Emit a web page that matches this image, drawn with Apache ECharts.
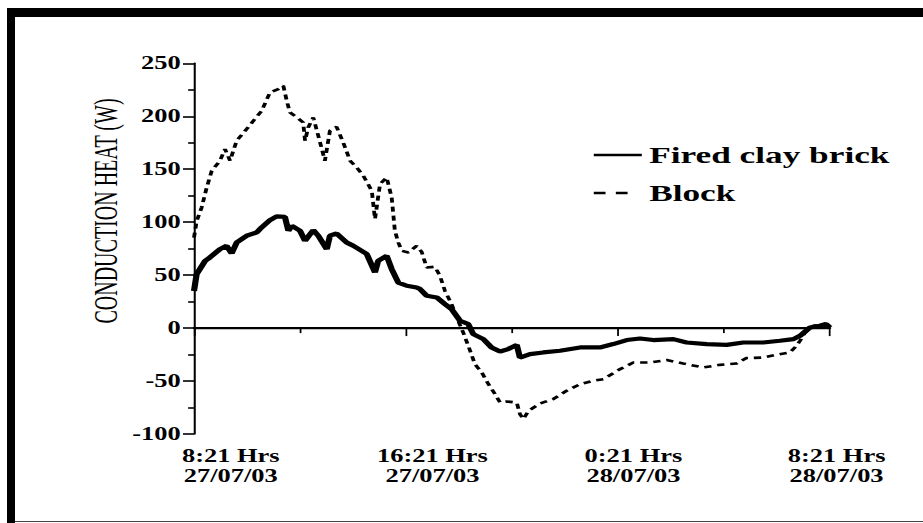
<!DOCTYPE html>
<html>
<head>
<meta charset="utf-8">
<script src="https://cdn.jsdelivr.net/npm/echarts@6/dist/echarts.min.js"></script>
<style>
html,body{margin:0;padding:0;background:#fff;overflow:hidden;width:923px;height:523px}
#wrap{position:absolute;left:0;top:0;width:628px;height:523px;transform:scaleX(1.46975);transform-origin:0 0}
.b{position:absolute;background:#000;z-index:2}
</style>
</head>
<body>
<div id="wrap"></div>
<div class="b" style="left:7px;top:8px;width:8px;height:515px"></div>
<div class="b" style="left:7px;top:8px;width:916px;height:9px"></div>
<div class="b" style="left:15px;top:521px;width:908px;height:1px;background:#444"></div>
<script>
// Hours elapsed since 8:21 on 27/07/03
const brickHours = [0,0.10,0.42,0.60,0.98,1.23,1.42,1.61,1.99,2.37,2.55,2.87,3.12,3.43,3.56,3.69,4.00,4.19,4.50,4.69,5.01,5.13,5.38,5.76,6.01,6.52,6.83,6.95,7.27,7.46,7.71,8.03,8.40,8.53,8.78,9.16,9.47,9.72,10.04,10.35,10.54,10.92,11.23,11.55,11.86,12.18,12.30,12.68,13.18,13.81,14.57,15.32,15.82,16.33,16.83,17.33,18.09,18.59,19.35,20.10,20.73,21.48,22.11,22.62,22.87,23.25,23.62,23.85,24.0];
const brickValues = [35,51,63.5,66.7,74.6,77.7,70.5,80.8,87.2,90.3,95,102,105.4,105,91.9,96.6,91.9,82.4,92.5,87.2,74.6,87.2,89.3,80.8,77.7,69.9,52.5,63.5,68.3,55.7,43,40,38.3,36.8,30.5,28.9,22.7,17.9,6.9,3.8,-5.7,-10.4,-18.3,-22.1,-19.8,-15.8,-27.8,-24.6,-23,-21.4,-18.3,-18.3,-15.1,-11.3,-9.8,-11.3,-10.4,-13.6,-15.1,-15.8,-13.6,-13.6,-12,-10.4,-7.3,0.6,2.2,3.8,0.6];
const blockHours = [0,0.10,0.29,0.48,0.67,0.98,1.17,1.36,1.61,1.99,2.24,2.55,2.87,3.18,3.37,3.50,3.62,3.88,4.12,4.19,4.31,4.50,4.69,4.94,5.13,5.38,5.63,5.89,6.14,6.39,6.71,6.83,7.02,7.27,7.46,7.58,7.71,7.84,8.09,8.40,8.59,8.78,9.09,9.28,9.47,9.72,9.97,10.16,10.42,10.60,10.86,11.11,11.36,11.55,11.80,12.18,12.30,12.43,12.62,13.06,13.56,14.06,14.57,15.07,15.45,16.08,16.58,17.21,17.84,18.46,19.22,19.85,20.48,20.85,21.48,21.98,22.49,22.74,22.87,23.06,23.37,23.87,24.0];
const blockValues = [85.5,101,114,132.8,148.5,158,169,158,176.9,188,195.7,205,222.5,225.7,228.8,214.6,203.6,198.9,194.1,176.9,189.4,198.9,181.6,158,186.3,190,175.3,158,151.6,143.8,129.6,102.9,136,142.2,123.3,91.9,80.8,73,71.4,77.7,72,57.2,57.9,49.4,35.2,22.7,6.9,-4.2,-21.4,-34,-41.9,-52.9,-62.3,-70.3,-69.3,-70.3,-81.2,-85.9,-78.1,-71.2,-67,-59.2,-52.9,-49.8,-48.2,-38.7,-32.5,-32.5,-30.2,-33.4,-37.2,-34.7,-33.4,-28.3,-27.8,-25.2,-23,-16.7,-12,-4.2,2.2,3.8,1.2];
const xTickTimes = ['8:21 Hrs','16:21 Hrs','0:21 Hrs','8:21 Hrs'];
const xTickDates = ['27/07/03','27/07/03','28/07/03','28/07/03'];
const seriesNames = ['Fired clay brick','Block'];
const yAxisTitle = 'CONDUCTION HEAT (W)';

const FONT = "'Liberation Serif','Times New Roman',serif";
const brickData = brickHours.map((h,i)=>[h,brickValues[i]]);
const blockData = blockHours.map((h,i)=>[h,blockValues[i]]);

const labelPads = [50,36,21,9];
const rich = {};
labelPads.forEach((p,i)=>{
  rich['x'+i] = {fontFamily:FONT,fontWeight:'bold',fontSize:18,color:'#000',lineHeight:20,padding:[0,0,0,p]};
});

const chart = echarts.init(document.getElementById('wrap'), null, {renderer:'svg', width:628, height:523});
chart.setOption({
  animation:false,
  backgroundColor:'transparent',
  grid:{left:132,right:63.3,top:63.3,bottom:89,containLabel:false},
  legend:{
    orient:'vertical',left:402.7,top:143,padding:0,itemWidth:32.7,itemHeight:14,itemGap:14,
    textStyle:{fontFamily:FONT,fontWeight:'bold',fontSize:24,color:'#000'},
    itemStyle:{opacity:0,color:'transparent',borderWidth:0},
    data:[
      {name:seriesNames[0],lineStyle:{width:2.6},itemStyle:{opacity:0,color:'transparent',borderWidth:0}},
      {name:seriesNames[1],lineStyle:{type:[8,7,8,20],width:2.4},itemStyle:{opacity:0,color:'transparent',borderWidth:0}}
    ]
  },
  xAxis:{
    type:'value',min:0,max:24,interval:8,
    axisLine:{lineStyle:{color:'#000',width:1.8}},
    axisTick:{show:true,length:8,lineStyle:{color:'#000',width:1.2}},
    minorTick:{show:true,splitNumber:2,length:5,lineStyle:{color:'#000',width:1.2}},
    splitLine:{show:false},
    axisLabel:{
      margin:12,align:'center',
      formatter:function(v){const i=Math.round(v/8);return '{x'+i+'|'+xTickTimes[i]+'}\n{x'+i+'|'+xTickDates[i]+'}';},
      rich:rich
    }
  },
  yAxis:{
    type:'value',min:-100,max:250,interval:50,
    axisLine:{show:true,lineStyle:{color:'#000',width:1.4}},
    axisTick:{show:true,length:7.5,lineStyle:{color:'#000',width:1.6}},
    minorTick:{show:true,splitNumber:2,length:4,lineStyle:{color:'#000',width:1.6}},
    splitLine:{show:false},
    axisLabel:{margin:9,fontFamily:FONT,fontWeight:'bold',fontSize:18,color:'#000'}
  },
  graphic:[{
    type:'text',x:71.8,y:211,rotation:Math.PI/2,scaleY:1.15,
    style:{text:yAxisTitle,fontFamily:FONT,fontSize:20,fill:'#000',textAlign:'center',textVerticalAlign:'middle'}
  }],
  series:[
    {name:seriesNames[0],type:'line',data:brickData,showSymbol:false,symbol:'none',
     lineStyle:{color:'#000',width:4.2,type:'solid'},itemStyle:{color:'#000'},z:3,
     markLine:{silent:true,symbol:'none',label:{show:false},lineStyle:{color:'#000',width:1.4,type:'solid'},data:[{yAxis:0}]}},
    {name:seriesNames[1],type:'line',data:blockData,showSymbol:false,symbol:'none',
     lineStyle:{color:'#000',width:2.6,type:[5,4]},itemStyle:{color:'#000'},z:2}
  ]
});
</script>
</body>
</html>
